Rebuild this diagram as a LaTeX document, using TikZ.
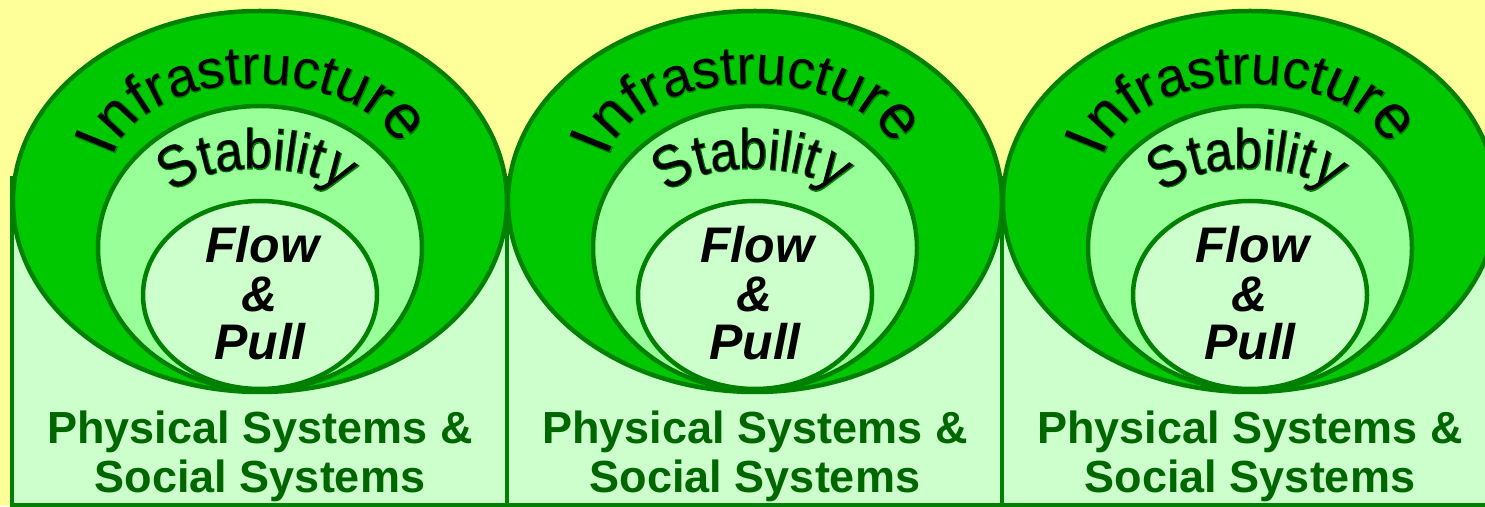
\documentclass[tikz,border=0pt]{standalone}
\usepackage{fontspec}
\setmainfont{Liberation Sans}
\newfontfamily\glowfont[FakeBold=2.5]{Liberation Sans}
\newfontfamily\plainarial{Liberation Sans}
\newfontfamily\glownarrow[FakeBold=2.5,FakeStretch=0.89]{Liberation Sans}
\newfontfamily\plainnarrow[FakeStretch=0.89]{Liberation Sans}
\usetikzlibrary{decorations.text}
\definecolor{bgyellow}{HTML}{FFFF99}
\definecolor{outerg}{HTML}{00C800}
\definecolor{midg}{HTML}{99FF99}
\definecolor{paleg}{HTML}{CCFFCC}
\definecolor{edgeg}{HTML}{008000}
\definecolor{textg}{HTML}{006600}
\newcommand\fs[1]{\fontsize{#1}{#1}\selectfont}
\begin{document}
\begin{tikzpicture}[x=1pt,y=1pt,
  panelbox/.style={fill=paleg, draw=edgeg, line width=4.5pt},
  ring/.style={draw=edgeg, line width=4.5pt},
  infra/.style={decorate, decoration={text along path,
    text={|\fs{62}|I|\fs{60}|n|\fs{58}|f|\fs{56}|r|\fs{54}|a|\fs{54}|s|\fs{54}|t|\fs{54}|r|\fs{54}|u|\fs{54}|c|\fs{55}|t|\fs{58}|u|\fs{60}|r|\fs{63}|e}}},
  stab/.style={decorate, decoration={text along path,
    text={|\fs{59}|S|\fs{57}|t|\fs{56}|a|\fs{56}|b|\fs{56}|i|\fs{56}|l|\fs{56}|i|\fs{57}|t|\fs{59}|y}}},
  flowtext/.style={font=\fontsize{50}{50}\selectfont\bfseries\itshape, text=black, inner sep=0pt, anchor=base},
  systext/.style={font=\fontsize{45}{45}\selectfont\bfseries, text=textg, inner sep=0pt, anchor=base}]
\fill[bgyellow] (0,0) rectangle (1485,506);
\useasboundingbox (0,0) rectangle (1485,506);
\foreach \cx in {260,755,1250} \draw[panelbox] (\cx-248,0.5) rectangle (\cx+248,328);
\foreach \i/\cx in {1/260,2/755,3/1250}{
  \draw[ring, fill=outerg] (\cx,304.5) ellipse[x radius=247, y radius=190.5];
  \draw[ring, fill=midg] (\cx,258) ellipse[x radius=162, y radius=142];
  \draw[ring, fill=paleg] (\cx,211) ellipse[x radius=117, y radius=94];
  \begingroup\glowfont
  \path[infra, decoration={text color=edgeg}]
    ([shift={(\cx-2,336)}]172:146 and 86) arc[start angle=172, end angle=-4, x radius=146, y radius=86];
  \endgroup
  \begingroup\plainarial
  \path[infra, decoration={text color=black}]
    ([shift={(\cx-2,336)}]172:146 and 86) arc[start angle=172, end angle=-4, x radius=146, y radius=86];
  \endgroup
  \begingroup\glownarrow
  \path[stab, decoration={text color=edgeg}]
    ([shift={(\cx-2,309)}]179:81 and 28) arc[start angle=179, end angle=-3, x radius=81, y radius=28];
  \endgroup
  \begingroup\plainnarrow
  \path[stab, decoration={text color=black}]
    ([shift={(\cx-2,309)}]179:81 and 28) arc[start angle=179, end angle=-3, x radius=81, y radius=28];
  \endgroup
  \node[flowtext] (flow\i) at (\cx+2,243) {Flow};
  \node[flowtext] (amp\i) at (\cx,194) {\&};
  \node[flowtext] (pull\i) at (\cx,146) {Pull};
  \node[systext] (phys\i) at (\cx,63) {Physical Systems \&};
  \node[systext] (soc\i) at (\cx,14) {Social Systems};
}
\end{tikzpicture}
\end{document}
